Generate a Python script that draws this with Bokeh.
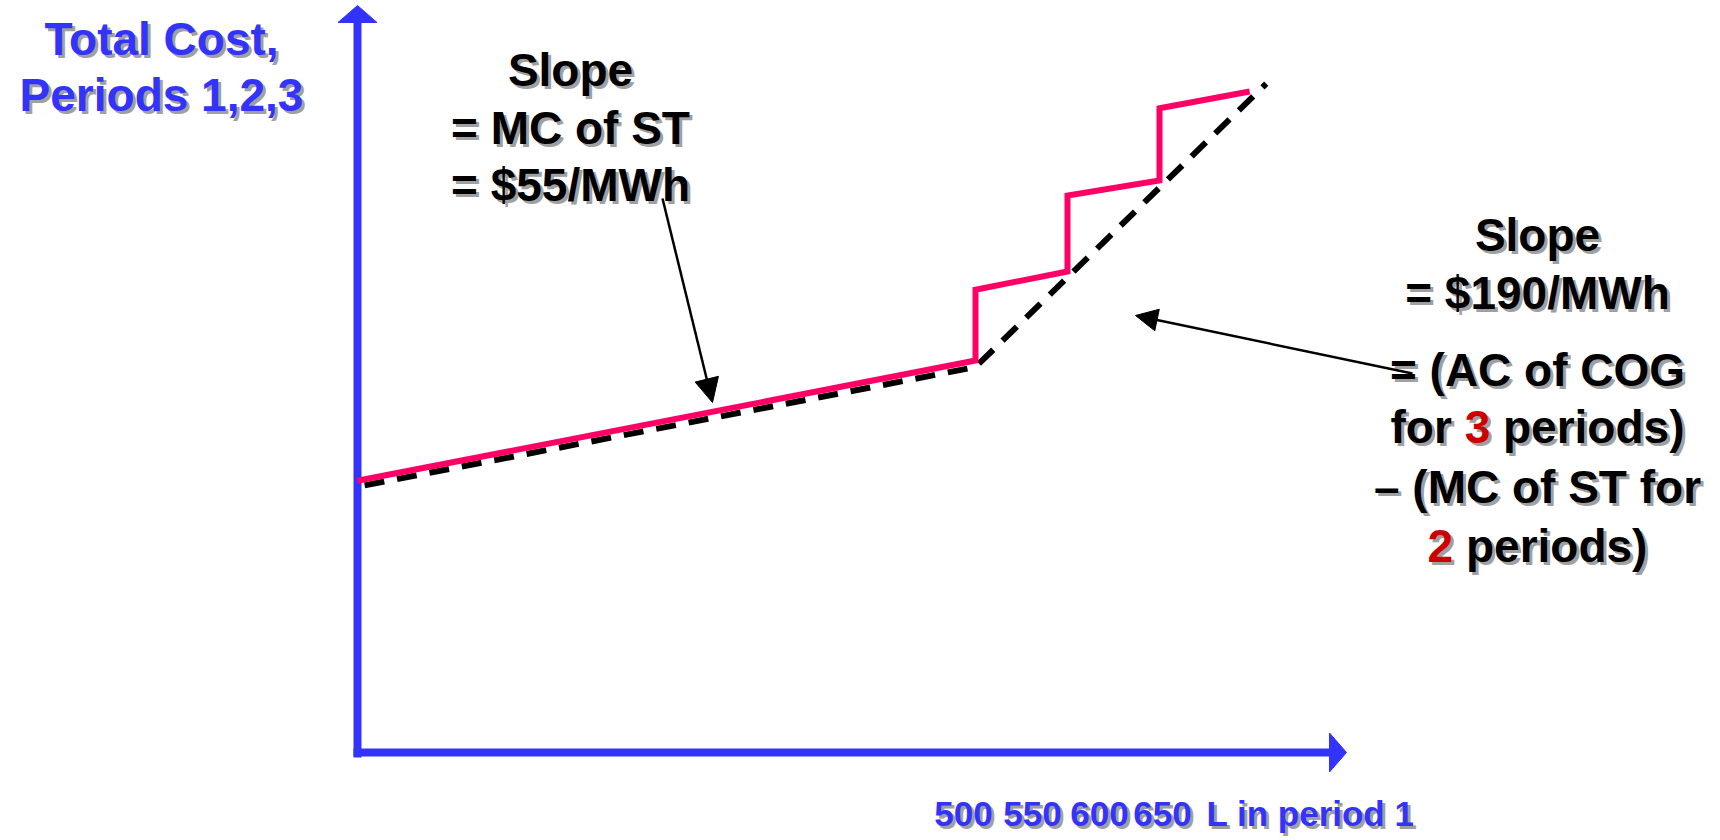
from bokeh.plotting import figure
from bokeh.models import Range1d, Arrow, NormalHead
from bokeh.core.properties import value
from bokeh.embed import file_html
from bokeh.resources import INLINE

# ---------------- data ----------------
# red (actual) total-cost curve: L in period 1 vs total cost (k$, schematic)
pink_L = [164, 500, 500, 550, 550, 600, 600, 649]
pink_cost = [41.8, 60.3, 71.2, 74.0, 85.7, 88.0, 99.1, 101.7]
# dashed (approximating) total-cost curve
dash_L = [168, 500, 658]
dash_cost = [41.1, 59.3, 102.9]
# axis texts
tick_labels = ["500", "550", "600", "650"]
x_title = "L in period 1"
y_title = ["Total Cost,", "Periods 1,2,3"]
left_note = ["Slope", "= MC of ST", "= $55/MWh"]

# ---------------- layout ----------------
W, H = 1720, 840
PX_PER_L = 1.84
PX_PER_C = 6.5
L_REF, PX_REF = 500, 975
AXIS_PY = 752
X0 = L_REF - PX_REF / PX_PER_L
X1 = X0 + W / PX_PER_L
Y1 = AXIS_PY / PX_PER_C
Y0 = Y1 - H / PX_PER_C


def fx(px):
    return X0 + px / PX_PER_L


def fy(py):
    return Y1 - py / PX_PER_C


BLUE = "#3333FF"
PINK = "#FF0066"
RED = "#CC0000"
SHADOW = "#A0A0A0"
FONT = "Liberation Sans"
FS = 46

p = figure(width=W, height=H, x_range=Range1d(X0, X1), y_range=Range1d(Y0, Y1),
           x_axis_location=None, y_axis_location=None, min_border=0,
           toolbar_location=None, output_backend="svg", background_fill_color="white")
p.grid.visible = False
p.outline_line_color = None

# ---------------- axes (drawn as arrows) ----------------
AX_PX = 357
p.line([fx(AX_PX), fx(AX_PX)], [fy(757), fy(20)], line_color=BLUE, line_width=8)
p.line([fx(353), fx(1332)], [fy(AXIS_PY), fy(AXIS_PY)], line_color=BLUE, line_width=8)
p.patch([fx(AX_PX), fx(AX_PX - 19.5), fx(AX_PX + 19.5)], [fy(5), fy(22), fy(22)],
        fill_color=BLUE, line_color=BLUE, line_width=1)
p.patch([fx(1346), fx(1329), fx(1329)], [fy(AXIS_PY), fy(AXIS_PY - 19.5), fy(AXIS_PY + 19.5)],
        fill_color=BLUE, line_color=BLUE, line_width=1)

# ---------------- curves ----------------
p.line(dash_L, dash_cost, line_color="black", line_width=6, line_dash="20 13", line_cap="butt")
p.line(pink_L, pink_cost, line_color=PINK, line_width=6, line_join="miter", line_cap="butt")

# ---------------- text helpers ----------------
ARIAL_B = {' ': .278, 'f': .333, 'o': .611, 'r': .389, '3': .556, '2': .556, 'p': .611,
           'e': .556, 'i': .278, 'd': .611, 's': .556, ')': .333}


def stext(px, py, txt, color, align="center", size=FS, font=FONT, dx=0):
    for col, off in ((SHADOW, 3), (color, 0)):
        p.text(x=[fx(px)], y=[fy(py)], text=[txt], text_color=col,
               text_font=value(font), text_font_size=f"{size}px", text_font_style="bold",
               text_align=align, text_baseline="alphabetic", x_offset=dx + off, y_offset=off)


def mixed_line(cx, py, parts, size=FS):
    full = "".join(t for t, _ in parts)
    total = sum(ARIAL_B.get(c, .556) for c in full) * size
    x = -total / 2
    for t, col in parts:
        w = sum(ARIAL_B.get(c, .556) for c in t) * size
        if t.strip():
            lead = (len(t) - len(t.lstrip())) * ARIAL_B[' '] * size
            stext(cx, py, t.strip(), col, align="left", size=size, dx=x + lead)
        x += w


# y title
stext(161, 38, y_title[0], BLUE)
stext(161, 94, y_title[1], BLUE)

# left note
for txt, py in zip(left_note, [69, 127, 184]):
    stext(570, py, txt, "black")

# right note
RC = 1537
stext(RC, 234, "Slope", "black")
stext(RC, 292, "= $190/MWh", "black")
stext(RC, 369, "= (AC of COG", "black")
mixed_line(RC, 426, [("for ", "black"), ("3", RED), (" periods)", "black")])
stext(RC, 486, "\u2013 (MC of ST for", "black")
mixed_line(RC, 545, [("2", RED), (" periods)", "black")])

# x tick labels and title
XL_FS = 35
XL_BASE = 813
for lab, cx in zip(tick_labels, [963, 1032, 1099, 1162]):
    stext(cx, XL_BASE, lab, BLUE, size=XL_FS)
stext(1206, XL_BASE, x_title, BLUE, align="left", size=XL_FS)

# ---------------- annotation arrows ----------------
p.add_layout(Arrow(x_start=fx(662), y_start=fy(198), x_end=fx(712), y_end=fy(402),
                   line_color="black", line_width=2.5,
                   end=NormalHead(size=24, fill_color="black", line_color="black")))
p.add_layout(Arrow(x_start=fx(1412), y_start=fy(373), x_end=fx(1135), y_end=fy(315),
                   line_color="black", line_width=2.5,
                   end=NormalHead(size=22, fill_color="black", line_color="black")))

open("out.html", "w").write(file_html(p, INLINE))
